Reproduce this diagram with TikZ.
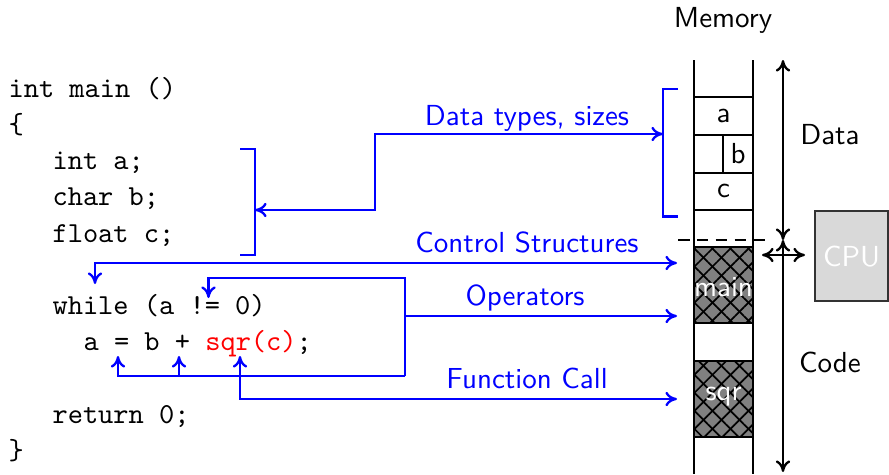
\documentclass[tikz,border=0pt]{standalone}
\usetikzlibrary{patterns.meta,arrows.meta}
\begin{document}
\begin{tikzpicture}[x=0.345pt,y=-0.345pt,
  code/.style={font=\ttfamily,anchor=base west,inner sep=0pt},
  lbl/.style={font=\sffamily,text=blue,inner sep=0pt},
  blk/.style={font=\sffamily,inner sep=0pt},
  conn/.style={blue,thick,-{To[length=4pt,width=5pt]}},
  conn2/.style={blue,thick,{To[length=4pt,width=5pt]}-{To[length=4pt,width=5pt]}},
  bline/.style={blue,thick},
  mem/.style={black,thick},
  dim/.style={black,thick,{To[length=4pt,width=5pt]}-{To[length=4pt,width=5pt]}}]
\useasboundingbox (0,0) rectangle (889,474);
% code
\node[code] (l0) at (8,97) {int main ()};
\node[code] (l1) at (8,133) {\{};
\node[code] (l2) at (52,169.5) {int a;};
\node[code] (l3) at (52,205.5) {char b;};
\node[code] (l4) at (52,242) {float c;};
\node[code] (l5) at (52,314) {while (a != 0)};
\node[code] (l6) at (83,350) {a = b + \textcolor{red}{sqr(c)};};
\node[code] (l7) at (52,423) {return 0;};
\node[code] (l8) at (8,459) {\}};
% labels
\node[lbl] (tdt) at (527,118) {Data types, sizes};
\node[lbl] (tcs) at (527,242) {Control Structures};
\node[lbl] (top) at (525,298) {Operators};
\node[lbl] (tfc) at (527,378) {Function Call};
\node[blk] (tmem) at (723,20) {Memory};
\node[blk] (tdata) at (830,135) {Data};
\node[blk] (tcode) at (830,362) {Code};
% memory column
\coordinate (mtl) at (694,60);
\coordinate (mbl) at (694,474);
\coordinate (mtr) at (753,60);
\coordinate (mbr) at (753,474);
\fill[gray] (694,247) rectangle (753,323);
\fill[gray] (694,361) rectangle (753,437);
\foreach \a in {45,-45}{
  \fill[pattern={Lines[angle=\a,distance=4.4pt,line width=0.6pt]},pattern color=black] (694,247) rectangle (753,323);
  \fill[pattern={Lines[angle=\a,distance=4.4pt,line width=0.6pt]},pattern color=black] (694,361) rectangle (753,437);
}
\draw[mem] (694,247) rectangle (753,323);
\draw[mem] (694,361) rectangle (753,437);
\node[blk,text=white] (tmain) at (723.5,287) {main};
\node[blk,text=white] (tsqr) at (723.5,397) {sqr};
\draw[mem] (mtl) -- (mbl);
\draw[mem] (mtr) -- (mbr);
\draw[mem] (694,97) -- (753,97);
\draw[mem] (694,135) -- (753,135);
\draw[mem] (694,173) -- (753,173);
\draw[mem] (694,210) -- (753,210);
\draw[mem] (723,135) -- (723,173);
\node[blk] (ca) at (723.5,116) {a};
\node[blk] (cb) at (738,154) {b};
\node[blk] (cc) at (723.5,191) {c};
\draw[black,thick,dash pattern=on 4pt off 2.5pt] (678,240) -- (770,240);
% dimension arrows
\coordinate (dtop) at (783,60);
\coordinate (dmid) at (783,240);
\coordinate (dbot) at (783,472);
\draw[dim] (dtop) -- (dmid);
\draw[dim] (dmid) -- (dbot);
% CPU
\node[draw=black!80,thick,fill=gray!30,minimum width=73*0.345pt,minimum height=90*0.345pt,anchor=north west,inner sep=0pt,font=\sffamily,text=white] (cpu) at (814,210) {CPU};
\coordinate (cpl) at (762,255);
\coordinate (cpr) at (805,255);
\draw[dim] (cpl) -- (cpr);
% brackets
\coordinate (bm) at (663,134);
\draw[bline] (678,89) -- (663,89) -- (663,216.5) -- (678,216.5);
\coordinate (bc) at (255,210);
\draw[bline] (240,149) -- (255,149) -- (255,255) -- (240,255);
\draw[conn2] (bc) -- (375,210) -- (375,134) -- (bm);
% control structures
\coordinate (cs1) at (95,284);
\coordinate (cs2) at (677,263);
\draw[conn2] (cs1) -- (95,263) -- (cs2);
% operators
\coordinate (op1) at (208.5,298);
\coordinate (op2) at (118,356);
\coordinate (op3) at (179,356);
\coordinate (op4) at (677,316);
\draw[conn] (405,376) -- (405,278) -- (208.5,278) -- (op1);
\draw[conn] (405,376) -- (118,376) -- (op2);
\draw[conn] (179,376) -- (op3);
\draw[conn] (405,316) -- (op4);
% function call
\coordinate (fc1) at (240,356);
\coordinate (fc2) at (677,399);
\draw[conn2] (fc1) -- (240,399) -- (fc2);
\end{tikzpicture}
\end{document}
